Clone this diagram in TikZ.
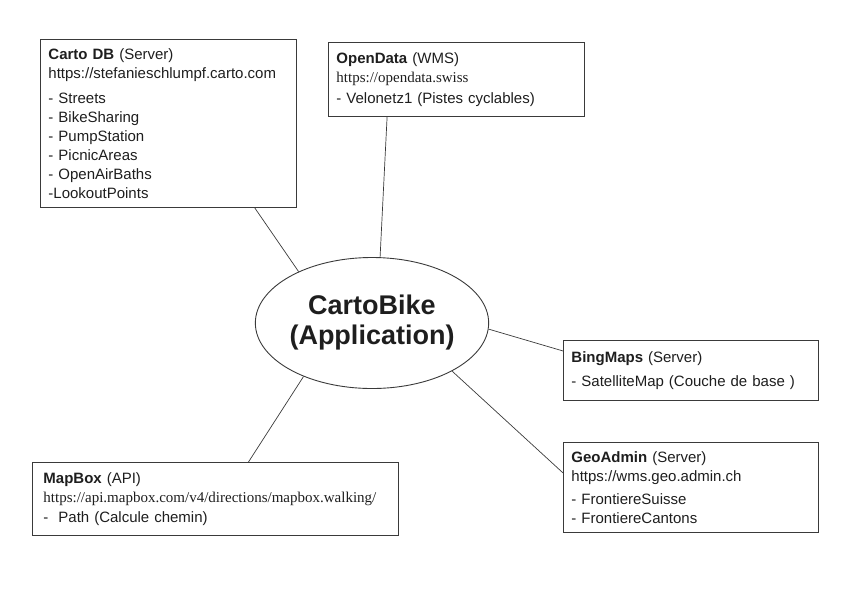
\documentclass[tikz,border=0pt]{standalone}
\usepackage{fontspec}
\setmainfont{Liberation Sans}
\newfontfamily\urlfont{Liberation Serif}
\usetikzlibrary{shapes.geometric,calc}
\definecolor{boxgray}{HTML}{3A3A3A}
\definecolor{inkgray}{HTML}{1E1E1E}
\tikzset{
  srcbox/.style={draw=boxgray, line width=0.9pt, rectangle, anchor=north west, align=left,
    inner xsep=8pt, inner ysep=0pt, text=inkgray, font=\fontsize{15}{19}\selectfont},
  link/.style={draw=boxgray, line width=0.7pt}
}
\begin{document}
\begin{tikzpicture}[x=1pt, y=-1pt]
% Page size (A4 landscape)
\useasboundingbox (0,0) rectangle (842,595);

% The application in the middle
\node[ellipse, draw=boxgray, line width=0.9pt, minimum width=232pt, minimum height=131pt, inner sep=0pt,
  align=center, text=inkgray, font=\fontsize{27}{30}\bfseries\selectfont] (app) at (372,323) {CartoBike\\(Application)};

% The data sources
\node[srcbox, text width=240pt, minimum height=168pt] (carto) at (40,39)
  {\textbf{Carto DB} (Server)\\https://stefanieschlumpf.carto.com\\[6pt]
   - Streets\\- BikeSharing\\- PumpStation\\- PicnicAreas\\- OpenAirBaths\\-LookoutPoints};
\node[srcbox, text width=240pt, minimum height=74pt] (opendata) at (328,42)
  {\textbf{OpenData} (WMS)\\{\urlfont https://opendata.swiss}\\[2pt]- Velonetz1 (Pistes cyclables)};
\node[srcbox, text width=239pt, minimum height=60pt] (bing) at (563,340)
  {\textbf{BingMaps} (Server)\\[5pt]- SatelliteMap (Couche de base )};
\node[srcbox, text width=239pt, minimum height=90pt] (geoadmin) at (563,442)
  {\textbf{GeoAdmin} (Server)\\https://wms.geo.admin.ch\\[4pt]- FrontiereSuisse\\- FrontiereCantons};
\node[srcbox, inner xsep=11pt, text width=344pt, minimum height=73pt] (mapbox) at (32,462)
  {\textbf{MapBox} (API)\\{\urlfont https://api.mapbox.com/v4/directions/mapbox.walking/}\\[1pt]-\ \ Path (Calcule chemin)};

% Connect the sources to the application
\draw[link] (app.145) -- ($(carto.south west)!0.836!(carto.south east)$);
\draw[link] (app.83) -- ($(opendata.south west)!0.23!(opendata.south east)$);
\draw[link] (app.-3) -- ($(bing.north west)!0.18!(bing.south west)$);
\draw[link] (app.-31) -- ($(geoadmin.north west)!0.34!(geoadmin.south west)$);
\draw[link] (app.218) -- ($(mapbox.north west)!0.59!(mapbox.north east)$);
\end{tikzpicture}
\end{document}
